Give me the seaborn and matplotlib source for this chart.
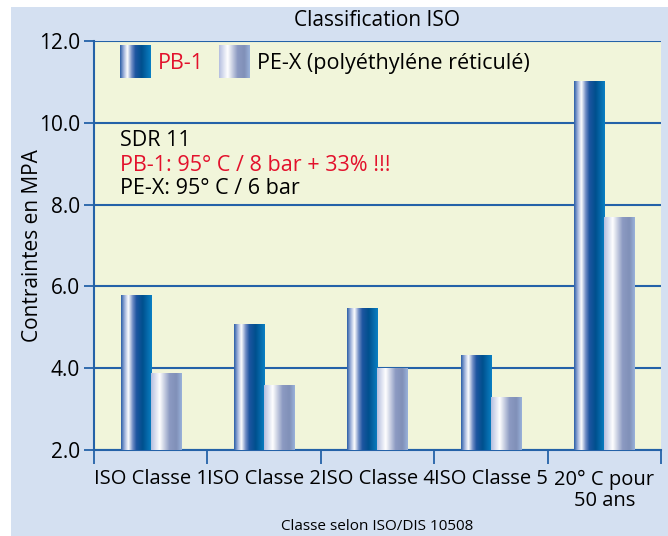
import numpy as np
import pandas as pd
import seaborn as sns
import matplotlib.pyplot as plt
from matplotlib.colors import LinearSegmentedColormap, to_rgba
from matplotlib.patches import Rectangle

# values (MPa)
categories = ["ISO Classe 1", "ISO Classe 2", "ISO Classe 4", "ISO Classe 5", "20° C pour\n50 ans"]
pb1 = [5.77, 5.08, 5.45, 4.30, 11.0]
pex = [3.86, 3.57, 4.00, 3.28, 7.68]
series = ["PB-1", "PE-X"]
legend_labels = ["PB-1", "PE-X (polyéthyléne réticulé)"]
yticks = [2, 4, 6, 8, 10, 12]

df = pd.DataFrame({
    "classe": categories * 2,
    "mpa": pb1 + pex,
    "materiau": [series[0]] * len(pb1) + [series[1]] * len(pex),
})

BLUE = "#2462a8"
RED = "#e3112c"
base_colors = {"PB-1": "#00508c", "PE-X": "#8a98c0"}

# metallic looking gradients, left to right across a bar
grad_maps = {
    "PB-1": LinearSegmentedColormap.from_list("pb1", [
        (0.0, "#2a5ea6"), (0.12, "#9fb2da"), (0.24, "#ffffff"), (0.38, "#6f8cc4"),
        (0.5, "#1d55a0"), (0.7, "#00508e"), (1.0, "#0a80c4")]),
    "PE-X": LinearSegmentedColormap.from_list("pex", [
        (0.0, "#b4bedf"), (0.28, "#ffffff"), (0.6, "#8c9ac2"), (0.82, "#8090b8"),
        (1.0, "#9ab2da")]),
}

def gradient(name):
    return grad_maps[name](np.linspace(0, 1, 256))[np.newaxis, :, :]

sns.set_theme(style="white")
plt.rcParams["font.family"] = ["Open Sans", "DejaVu Sans"]
plt.rcParams.update({"text.color": "black", "axes.labelcolor": "black",
                     "xtick.labelcolor": "black", "ytick.labelcolor": "black"})

fig = plt.figure(figsize=(6.68, 5.36), dpi=100, facecolor="white")
fig.patches.append(Rectangle((11 / 668, 0), 1, 529 / 536, transform=fig.transFigure,
                             facecolor="#d4e0f1", edgecolor="none", zorder=-10))
ax = fig.add_axes([94 / 668, 86 / 536, 567 / 668, 409 / 536])
ax.set_facecolor("#f1f5da")

sns.barplot(data=df, x="classe", y="mpa", hue="materiau", hue_order=series,
            palette=base_colors, width=0.53, gap=0, legend=False, ax=ax, zorder=3)

# swap the flat bars for gradient images
for p in list(ax.patches):
    fc = p.get_facecolor()
    name = min(series, key=lambda s: np.abs(np.array(to_rgba(base_colors[s])) - np.array(fc)).sum())
    x0, y0, w, h = p.get_x(), p.get_y(), p.get_width(), p.get_height()
    ax.imshow(gradient(name), extent=[x0, x0 + w, y0, y0 + h], aspect="auto",
              interpolation="bilinear", zorder=3)
    p.set_visible(False)

# legend swatches drawn in axes coordinates
swatch_x = [(0.046, 0.1005), (0.2205, 0.275)]
text_x = [0.113, 0.2875]
for name, lab, (a, b), tx in zip(series, legend_labels, swatch_x, text_x):
    ax.imshow(gradient(name), extent=[a, b, 0.9095, 0.988], transform=ax.transAxes,
              aspect="auto", interpolation="bilinear", zorder=4)
    ax.text(tx, 0.945, lab, transform=ax.transAxes, va="center", ha="left",
            fontsize=15.5, color=RED if name == "PB-1" else "black")

ax.text(0.046, 0.756, "SDR 11", transform=ax.transAxes, va="center", fontsize=15.5)
ax.text(0.046, 0.695, "PB-1: 95° C / 8 bar + 33% !!!", transform=ax.transAxes,
        va="center", fontsize=15.5, color=RED)
ax.text(0.046, 0.639, "PE-X: 95° C / 6 bar", transform=ax.transAxes, va="center", fontsize=15.5)
ax.text(0.5, 1.049, "Classification ISO", transform=ax.transAxes, ha="center",
        va="center", fontsize=15)

ax.set_xlim(-0.5, len(categories) - 0.5)
ax.set_ylim(2, 12)
ax.set_yticks(yticks)
ax.set_yticklabels([f"{v:.1f}" for v in yticks])
ax.set_xticks(range(len(categories)))
ax.set_xticklabels(categories, fontsize=14.5, linespacing=1.1)
ax.set_xticks(np.arange(-0.5, len(categories)), minor=True)

ax.yaxis.grid(True, color=BLUE, lw=1.5)
ax.xaxis.grid(False)
ax.set_axisbelow(True)
for side in ["top", "right"]:
    ax.spines[side].set_visible(False)
for side in ["left", "bottom"]:
    ax.spines[side].set_color(BLUE)
    ax.spines[side].set_linewidth(1.5)

ax.tick_params(axis="y", direction="out", length=7, width=1.3, color=BLUE,
               labelsize=15, pad=3, left=True)
ax.tick_params(axis="x", which="major", length=0, pad=14)
ax.tick_params(axis="x", which="minor", direction="out", length=10, width=1.3,
               color=BLUE, bottom=True)

ax.set_ylabel("Contraintes en MPA", fontsize=15)
ax.yaxis.set_label_coords(-0.109, 0.5)
ax.yaxis.label.set_va("center")
ax.set_xlabel("Classe selon ISO/DIS 10508", fontsize=11)
ax.xaxis.set_label_coords(0.5, -0.186)
ax.xaxis.label.set_va("center")

fig.savefig("out.png", dpi=100)
